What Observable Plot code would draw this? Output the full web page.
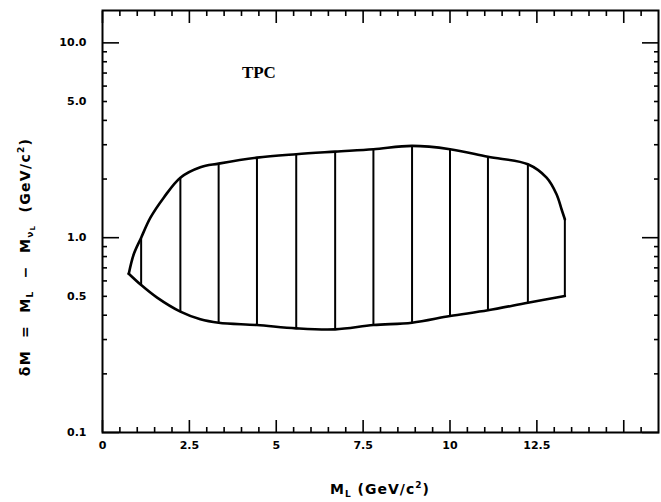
<!DOCTYPE html>
<html><head><meta charset="utf-8">
<script src="https://cdn.jsdelivr.net/npm/d3@7"></script>
<script src="https://cdn.jsdelivr.net/npm/@observablehq/plot@0.6"></script>
<style>body{margin:0;background:#fff} svg{display:block}</style>
</head><body><div id="chart"></div>
<script>
// Upper boundary of the TPC excluded region (left tip -> right edge)
const upperX = [0.756, 0.899, 1.112, 1.379, 1.762, 2.241, 2.816, 3.342, 4.445, 5.575, 6.695, 7.796, 8.908, 10.0, 11.092, 12.241, 12.779, 13.066, 13.210, 13.305];
const upperY = [0.653, 0.822, 1.0, 1.267, 1.605, 2.033, 2.30, 2.40, 2.576, 2.682, 2.765, 2.845, 2.958, 2.845, 2.60, 2.382, 2.033, 1.671, 1.399, 1.243];
// Lower boundary (left tip -> right edge)
const lowerX = [0.756, 1.112, 1.572, 2.241, 2.816, 3.342, 4.445, 5.575, 6.695, 7.796, 8.908, 10.0, 11.092, 12.241, 13.305];
const lowerY = [0.653, 0.5714, 0.492, 0.417, 0.381, 0.366, 0.356, 0.3424, 0.3385, 0.356, 0.366, 0.396, 0.4237, 0.4636, 0.502];
// Vertical hatching lines
const hatchX    = [1.112, 2.241, 3.342, 4.445, 5.575, 6.695, 7.796, 8.908, 10.0, 11.092, 12.241, 13.305];
const hatchLow  = [0.5714, 0.417, 0.366, 0.356, 0.3424, 0.3385, 0.356, 0.366, 0.396, 0.4237, 0.4636, 0.502];
const hatchHigh = [1.0, 2.033, 2.40, 2.576, 2.682, 2.765, 2.845, 2.958, 2.845, 2.60, 2.382, 1.243];
// Ticks
const xMajorTicks = [0, 2.5, 5, 7.5, 10, 12.5, 15];
const xMinorTicks = [0.5, 1, 1.5, 2, 3, 3.5, 4, 4.5, 5.5, 6, 6.5, 7, 8, 8.5, 9, 9.5, 10.5, 11, 11.5, 12, 13, 13.5, 14, 14.5, 15.5];
const xLabelTicks = [0, 2.5, 5, 7.5, 10, 12.5];
const xTickLabels = ["0", "2.5", "5", "7.5", "10", "12.5"];
const yMajorTicks = [0.1, 1, 10];
const yMinorTicks = [0.2, 0.3, 0.4, 0.5, 0.6, 0.7, 0.8, 0.9, 2, 3, 4, 5, 6, 7, 8, 9];
const yLabelTicks = [0.1, 0.5, 1, 5, 10];
const yTickLabels = ["0.1", "0.5", "1.0", "5.0", "10.0"];
const annotationText = ["TPC"];

const hatchIdx = hatchX.map((_, i) => i);
const upper = upperX.map((x, i) => ({x, y: upperY[i]}));
const lower = lowerX.map((x, i) => ({x, y: lowerY[i]}));

const W = 661, H = 502, mL = 102, mR = 3, mT = 10, mB = 70;
const font = "DejaVu Sans";
const tickStyle = {stroke: "black", strokeWidth: 1.6, label: null, tickFormat: () => ""};

const plot = Plot.plot({
  width: W, height: H,
  marginLeft: mL, marginRight: mR, marginTop: mT, marginBottom: mB,
  style: {fontFamily: font, background: "white", color: "black"},
  x: {domain: [0, 16]},
  y: {type: "log", domain: [0.1, 14.66]},
  marks: [
    // inward ticks, all four sides
    Plot.axisX(xMinorTicks, {...tickStyle, anchor: "bottom", tickSize: -5}),
    Plot.axisX(xMajorTicks, {...tickStyle, anchor: "bottom", tickSize: -12}),
    Plot.axisX(xMinorTicks, {...tickStyle, anchor: "top", tickSize: -5}),
    Plot.axisX(xMajorTicks, {...tickStyle, anchor: "top", tickSize: -12}),
    Plot.axisY(yMinorTicks, {...tickStyle, anchor: "left", tickSize: -5}),
    Plot.axisY(yMajorTicks, {...tickStyle, anchor: "left", tickSize: -17}),
    Plot.axisY(yMinorTicks, {...tickStyle, anchor: "right", tickSize: -5}),
    Plot.axisY(yMajorTicks, {...tickStyle, anchor: "right", tickSize: -17}),
    // tick labels
    Plot.axisX(xLabelTicks, {anchor: "bottom", tickSize: 0, tickPadding: 9, label: null,
      tickFormat: d => xTickLabels[xLabelTicks.indexOf(d)], fontSize: 11, fontWeight: "bold"}),
    Plot.axisY(yLabelTicks, {anchor: "left", tickSize: 0, tickPadding: 16, label: null,
      tickFormat: d => yTickLabels[yLabelTicks.indexOf(d)], fontSize: 11, fontWeight: "bold"}),
    Plot.frame({stroke: "black", strokeWidth: 2}),
    // region
    Plot.ruleX(hatchIdx, {x: i => hatchX[i], y1: i => hatchLow[i], y2: i => hatchHigh[i], stroke: "black", strokeWidth: 2}),
    Plot.line(upper, {x: "x", y: "y", curve: "catmull-rom", stroke: "black", strokeWidth: 2.6}),
    Plot.line(lower, {x: "x", y: "y", curve: "catmull-rom", stroke: "black", strokeWidth: 2.6}),
    Plot.text(annotationText, {x: 4.5, y: 7.0, text: d => d, fontSize: 17, fontFamily: "Liberation Serif", fontWeight: "bold"})
  ]
});

const svg = d3.select(plot);
// x-axis title
const xt = svg.append("text")
  .attr("x", (mL + (W - mR)) / 2).attr("y", 494)
  .attr("text-anchor", "middle").attr("font-family", font).attr("font-weight", "bold")
  .attr("font-size", 14).attr("letter-spacing", 1).attr("fill", "black");
xt.append("tspan").text("M");
xt.append("tspan").attr("font-size", 9).attr("dy", 3).text("L");
xt.append("tspan").attr("dy", -3).text(" (GeV/c");
xt.append("tspan").attr("font-size", 9).attr("dy", -6).text("2");
xt.append("tspan").attr("dy", 6).text(")");

// y-axis title
const yt = svg.append("text")
  .attr("transform", "translate(30,257) rotate(-90)")
  .attr("text-anchor", "middle").attr("font-family", font).attr("font-weight", "bold")
  .attr("font-size", 14).attr("letter-spacing", 1.3).attr("word-spacing", 6).attr("fill", "black");
yt.append("tspan").text("δM = M");
yt.append("tspan").attr("font-size", 9).attr("dy", 3).text("L");
yt.append("tspan").attr("dy", -3).text(" − M");
yt.append("tspan").attr("font-size", 9).attr("dy", 3).text("ν");
yt.append("tspan").attr("font-size", 7).attr("dy", 2).text("L");
yt.append("tspan").attr("dy", -5).text(" (GeV/c");
yt.append("tspan").attr("font-size", 9).attr("dy", -6).text("2");
yt.append("tspan").attr("dy", 6).text(")");

document.getElementById("chart").appendChild(plot);
</script>
</body></html>
